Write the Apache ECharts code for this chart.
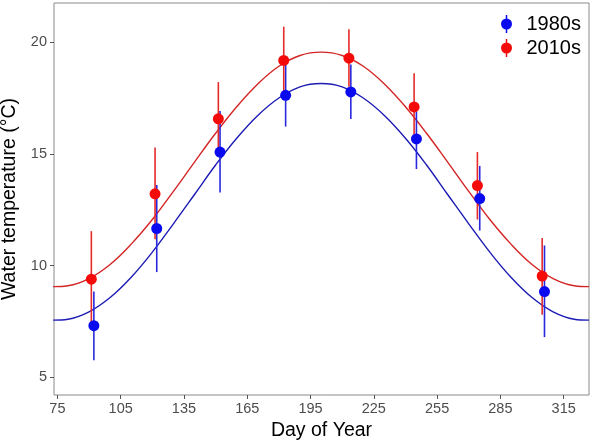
<!DOCTYPE html>
<html>
<head>
<meta charset="utf-8">
<script src="https://cdn.jsdelivr.net/npm/echarts@6/dist/echarts.min.js"></script>
<style>html,body{margin:0;padding:0;background:#fff}#c{width:592px;height:441px}</style>
</head>
<body>
<div id="c"></div>
<script>
// ---- data ----
const seriesNames = ['1980s', '2010s'];

const days1980 = [92.3, 122.1, 152.1, 183.2, 214.1, 245.2, 275.2, 305.9];
const mean1980 = [7.31, 11.66, 15.08, 17.62, 17.77, 15.67, 13.0, 8.84];
const lo1980   = [5.76, 9.71, 13.27, 16.22, 16.56, 14.32, 11.57, 6.80];
const hi1980   = [8.84, 13.61, 16.92, 19.0, 19.0, 16.9, 14.46, 10.90];

const days2010 = [91.1, 121.3, 151.3, 182.3, 213.2, 244.1, 274.1, 304.8];
const mean2010 = [9.39, 13.21, 16.57, 19.18, 19.28, 17.10, 13.58, 9.53];
const lo2010   = [7.24, 11.18, 14.93, 17.67, 18.0, 15.6, 12.06, 7.80];
const hi2010   = [11.54, 15.28, 18.21, 20.69, 20.57, 18.61, 15.08, 11.23];

// fitted curves
const fitDays = [73, 80, 90, 100, 110, 120, 130, 140, 150, 160, 170, 180, 190, 200,
                 210, 220, 230, 240, 250, 260, 270, 280, 290, 300, 310, 320, 327];
const fit1980 = [7.56, 7.6, 7.93, 8.57, 9.48, 10.6, 11.87, 13.18, 14.5, 15.7, 16.72, 17.5, 18.0, 18.15,
                 18.0, 17.5, 16.72, 15.7, 14.5, 13.18, 11.87, 10.6, 9.48, 8.57, 7.93, 7.6, 7.56];
const fit2010 = [9.06, 9.1, 9.42, 10.05, 10.96, 12.06, 13.32, 14.63, 15.92, 17.11, 18.13, 18.92, 19.4, 19.55,
                 19.4, 18.92, 18.13, 17.11, 15.92, 14.63, 13.32, 12.06, 10.96, 10.05, 9.42, 9.1, 9.06];

const xTicks = [75, 105, 135, 165, 195, 225, 255, 285, 315];
const yTicks = [5, 10, 15, 20];

// ---- styling ----
const dotBlue = '#0a0af0', dotRed = '#f50a0a';
const lineBlue = '#1c1cb4', lineRed = '#d42424';
const barBlue = '#2828dc', barRed = '#e62a2a';
const FONT = '"Liberation Sans", Arial, Helvetica, sans-serif';

const zip = (a, b) => a.map((v, i) => [v, b[i]]);
const zip3 = (a, b, c) => a.map((v, i) => [v, b[i], c[i]]);

function errBar(color) {
  return function (params, api) {
    const p1 = api.coord([api.value(0), api.value(1)]);
    const p2 = api.coord([api.value(0), api.value(2)]);
    return {
      type: 'line',
      shape: { x1: p1[0], y1: p1[1], x2: p2[0], y2: p2[1] },
      style: { stroke: color, lineWidth: 1.6 }
    };
  };
}

const legendIcon = 'path://M5.25,0 L6.75,0 L6.75,18 L5.25,18 Z M0.5,9 A5.5,5.5 0 1,1 11.5,9 A5.5,5.5 0 1,1 0.5,9 Z';

const chart = echarts.init(document.getElementById('c'), null, { renderer: 'canvas' });
chart.setOption({
  animation: false,
  backgroundColor: '#ffffff',
  textStyle: { fontFamily: FONT },
  grid: { left: 54, right: 3, top: 3, bottom: 46, show: true, borderColor: '#8a8a8a', borderWidth: 1,
          backgroundColor: 'transparent', containLabel: false, outerBoundsMode: 'none' },
  legend: {
    data: [
      { name: seriesNames[0], icon: legendIcon, itemStyle: { color: dotBlue } },
      { name: seriesNames[1], icon: legendIcon, itemStyle: { color: dotRed } }
    ],
    orient: 'vertical',
    left: 498, top: 11, padding: 3,
    itemWidth: 30, itemHeight: 18, itemGap: 4,
    textStyle: { fontFamily: FONT, fontSize: 20, color: '#000' },
    selectedMode: false
  },
  xAxis: {
    type: 'value', min: 73.4, max: 327,
    name: 'Day of Year', nameLocation: 'middle', nameGap: 23,
    nameTextStyle: { fontFamily: FONT, fontSize: 19.5, color: '#000' },
    axisLine: { show: false },
    splitLine: { show: false },
    axisTick: { show: true, customValues: xTicks, length: 4, lineStyle: { color: '#555', width: 1 } },
    axisLabel: { customValues: xTicks, fontFamily: FONT, fontSize: 14.5, color: '#4d4d4d', margin: 6 }
  },
  yAxis: {
    type: 'value', min: 4.21, max: 21.75,
    name: 'Water temperature (°C)', nameLocation: 'middle', nameGap: 33, nameRotate: 90,
    nameTextStyle: { fontFamily: FONT, fontSize: 19.5, color: '#000' },
    axisLine: { show: false },
    splitLine: { show: false },
    axisTick: { show: true, customValues: yTicks, length: 4, lineStyle: { color: '#555', width: 1 } },
    axisLabel: { customValues: yTicks, fontFamily: FONT, fontSize: 14.5, color: '#4d4d4d', margin: 7 }
  },
  series: [
    { name: 'fit1980', type: 'line', data: zip(fitDays, fit1980), smooth: 0.4, showSymbol: false, symbol: 'none',
      lineStyle: { color: lineBlue, width: 1.4 }, z: 1, silent: true },
    { name: 'fit2010', type: 'line', data: zip(fitDays, fit2010), smooth: 0.4, showSymbol: false, symbol: 'none',
      lineStyle: { color: lineRed, width: 1.4 }, z: 1, silent: true },
    { name: 'err1980', type: 'custom', data: zip3(days1980, lo1980, hi1980), renderItem: errBar(barBlue), z: 2, silent: true },
    { name: 'err2010', type: 'custom', data: zip3(days2010, lo2010, hi2010), renderItem: errBar(barRed), z: 2, silent: true },
    { name: seriesNames[0], type: 'scatter', data: zip(days1980, mean1980), symbolSize: 11,
      itemStyle: { color: dotBlue, opacity: 1 }, z: 3 },
    { name: seriesNames[1], type: 'scatter', data: zip(days2010, mean2010), symbolSize: 11,
      itemStyle: { color: dotRed, opacity: 1 }, z: 3 }
  ]
});
</script>
</body>
</html>
